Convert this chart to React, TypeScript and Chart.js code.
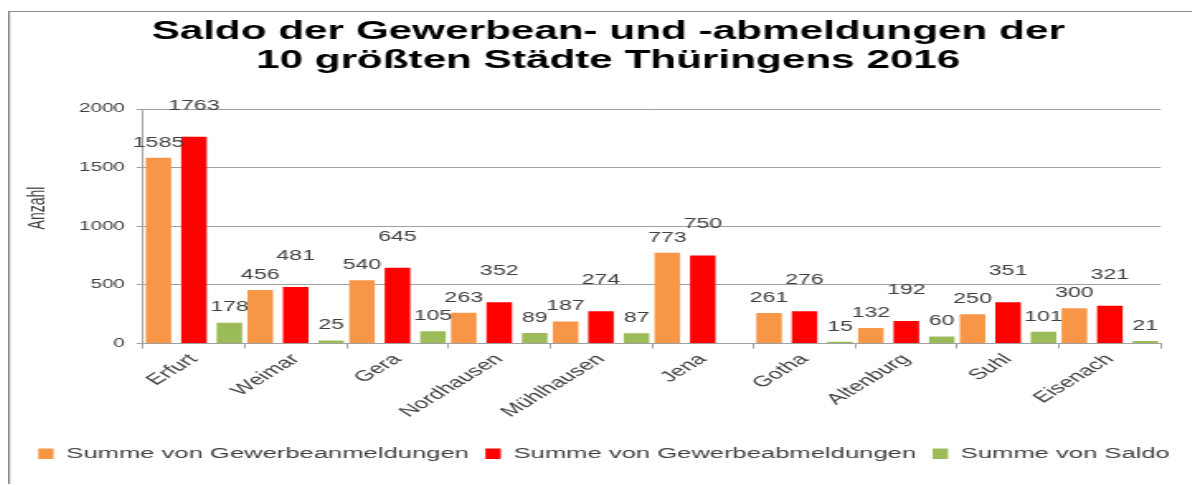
import React, { useEffect, useRef } from "react";
import { Chart, registerables } from "chart.js";

Chart.register(...registerables);

const categories = ["Erfurt", "Weimar", "Gera", "Nordhausen", "Mühlhausen", "Jena", "Gotha", "Altenburg", "Suhl", "Eisenach"];
const anmeldungen = [1585, 456, 540, 263, 187, 773, 261, 132, 250, 300];
const abmeldungen = [1763, 481, 645, 352, 274, 750, 276, 192, 351, 321];
const saldo = [178, 25, 105, 89, 87, -23, 15, 60, 101, 21];
const seriesNames = ["Summe von Gewerbeanmeldungen", "Summe von Gewerbeabmeldungen", "Summe von Saldo"];
const titleLines = ["Saldo der Gewerbean- und -abmeldungen der", "10 größten Städte Thüringens 2016"];
const yAxisTitle = "Anzahl";
const yMin = 0;
const yMax = 2000;
const yStep = 500;

// The reference is horizontally stretched: draw narrow, stretch with CSS.
const STRETCH = 1.65;
const OUT_W = 1192;
const OUT_H = 476;
const IN_W = Math.round(OUT_W / STRETCH);

const FONT = "'Liberation Sans', Arial, Helvetica, sans-serif";
const TEXT = "#404040";
const GRID = "#a0a0a0";
const COLORS = ["#F79646", "#FF0000", "#9BBB59"];
const LABEL_OFFSETS = [15, 31, 15];

const decorPlugin = {
  id: "decor",
  afterDatasetsDraw(chart: any) {
    const ctx = chart.ctx;
    ctx.save();
    ctx.font = `14px ${FONT}`;
    ctx.fillStyle = TEXT;
    ctx.textAlign = "center";
    ctx.textBaseline = "middle";
    chart.data.datasets.forEach((ds: any, di: number) => {
      const meta = chart.getDatasetMeta(di);
      meta.data.forEach((bar: any, i: number) => {
        const v = ds.data[i] as number;
        if (v < 0) return;
        ctx.fillText(String(v), bar.x, bar.y - LABEL_OFFSETS[di]);
      });
    });
    ctx.restore();
  },
  afterDraw(chart: any) {
    const ctx = chart.ctx;
    ctx.save();
    ctx.strokeStyle = "#8c8c8c";
    ctx.lineWidth = 1.2;
    ctx.beginPath();
    ctx.moveTo(0.6, chart.height);
    ctx.lineTo(0.6, 3.5);
    ctx.lineTo(chart.width, 3.5);
    ctx.stroke();

    ctx.fillStyle = "#000";
    ctx.font = `bold 25.6px ${FONT}`;
    ctx.textAlign = "center";
    ctx.textBaseline = "alphabetic";
    const cx = chart.width / 2 + 2.5;
    ctx.fillText(titleLines[0], cx, 31);
    ctx.fillText(titleLines[1], cx, 60);

    ctx.translate(18, 200);
    ctx.rotate(-Math.PI / 2);
    ctx.font = `14px ${FONT}`;
    ctx.fillStyle = TEXT;
    ctx.textBaseline = "middle";
    ctx.fillText(yAxisTitle, 0, 0);
    ctx.restore();
  },
};

export default function App() {
  const ref = useRef<HTMLCanvasElement>(null);
  useEffect(() => {
    if (!ref.current) return;
    Chart.defaults.font.family = FONT;
    const series = [anmeldungen, abmeldungen, saldo];
    const chart = new Chart(ref.current, {
      type: "bar",
      data: {
        labels: categories,
        datasets: series.map((d, i) => ({
          label: seriesNames[i],
          data: d,
          backgroundColor: COLORS[i],
          borderWidth: 0,
          barPercentage: 0.72,
          categoryPercentage: 1.046,
          yAxisID: "y",
        })),
      },
      options: {
        responsive: false,
        devicePixelRatio: 1,
        animation: false,
        events: [],
        layout: { padding: { top: 101, left: 0, right: 0, bottom: 12.5 } },
        plugins: {
          title: { display: false },
          tooltip: { enabled: false },
          legend: {
            position: "bottom",
            align: "center",
            labels: {
              boxWidth: 9.3,
              boxHeight: 10.7,
              padding: 10,
              color: TEXT,
              font: { size: 15.5 },
            },
          },
        },
        scales: {
          x: {
            grid: { display: true, drawOnChartArea: false, drawTicks: true, tickLength: 5, offset: true, color: GRID },
            border: { display: true, color: GRID },
            ticks: { autoSkip: false, minRotation: 45, maxRotation: 45, padding: 2, color: TEXT, font: { size: 15 } },
            afterFit: (s: any) => {
              s.height = 92.5;
            },
          },
          y: {
            min: yMin,
            max: yMax,
            ticks: {
              stepSize: yStep,
              padding: 7,
              color: TEXT,
              font: { size: 12.5 },
              callback: (v: any) => String(v),
            },
            grid: { color: GRID, tickLength: 4 },
            border: { display: true, color: GRID },
            afterFit: (s: any) => {
              s.width = 81.8;
            },
          },
          yr: {
            position: "right",
            display: true,
            grid: { display: false, drawTicks: false },
            border: { display: false },
            ticks: { display: false },
            afterFit: (s: any) => {
              s.width = 23.8;
            },
          },
        },
      },
      plugins: [decorPlugin],
    });
    return () => chart.destroy();
  }, []);
  return (
    <canvas
      ref={ref}
      width={IN_W}
      height={OUT_H}
      style={{ display: "block", width: OUT_W + "px", height: OUT_H + "px" }}
    />
  );
}
